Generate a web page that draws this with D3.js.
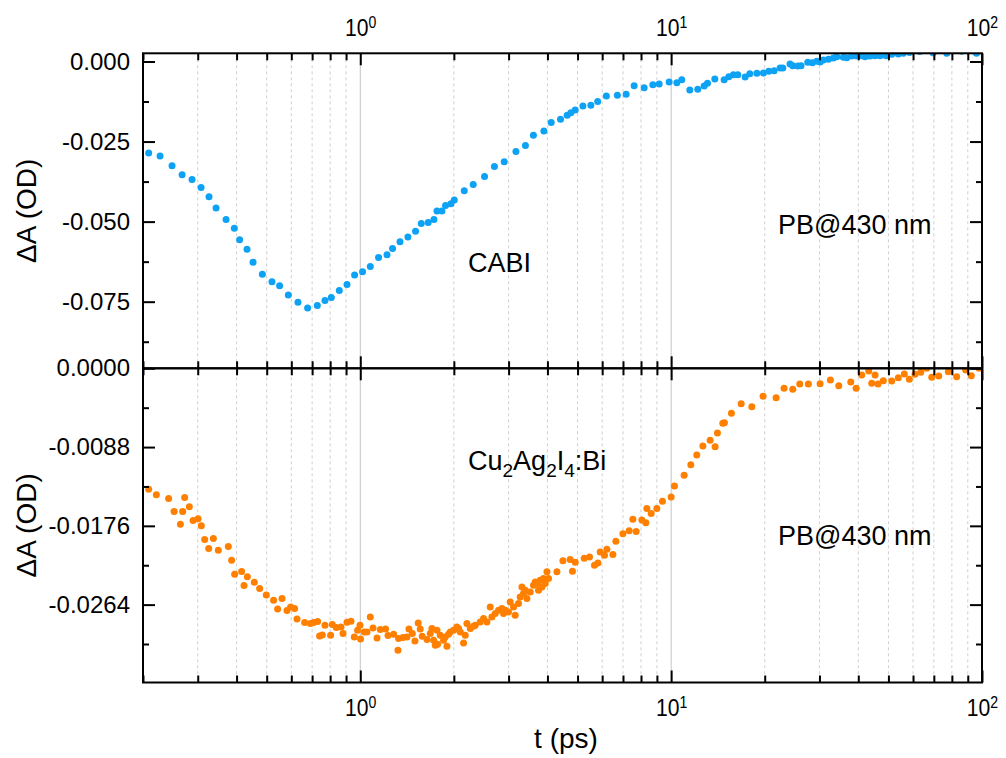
<!DOCTYPE html>
<html lang="en">
<head>
<meta charset="UTF-8">
<title>PB@430 nm</title>
<script src="https://d3js.org/d3.v7.min.js"></script>
<style>
	body{margin:0;background:#fff;}
	text{font-family:"Liberation Sans",Arial,sans-serif;fill:#000;}
</style>
</head>
<body>
<script>
// CABI, PB@430 nm
let tCABI=[0.2086,0.2269,0.248,0.2672,0.2876,0.3075,0.3262,0.3436,0.37,0.3934,
	0.4091,0.4322,0.4519,0.4842,0.52,0.5501,0.5868,0.6304,0.6769,0.7273,
	0.77,0.8068,0.856,0.9063,0.9587,1.017,1.077,1.145,1.219,1.27,
	1.342,1.423,1.506,1.571,1.654,1.726,1.765,1.831,1.881,1.957,
	2.006,2.16,2.308,2.51,2.701,2.904,3.168,3.398,3.605,3.896,
	4.113,4.407,4.63,4.759,4.914,5.202,5.518,5.803,6.188,6.714,
	7.166,7.603,8.189,8.733,9.151,9.854,10.43,10.82,11.48,12.18,
	12.77,13.09,13.82,14.81,15.33,15.86,16.39,17.3,17.91,18.87,
	19.81,20.61,21.44,22.41,22.87,24.13,24.62,25.55,26.18,27.51,
	28.47,29.41,30.14,30.88,32.05,33.26,34.11,35.81,36.73,38.11,
	39.55,41.04,42.06,43.64,45.29,46.99,49.13,51.25,53.82,55.84,
	58.5,63,69.6,77,86,96];
let dCABI=[-0.02859,-0.02953,-0.03256,-0.03538,-0.03681,-0.03931,-0.04225,-0.04578,-0.04931,-0.05203,
	-0.05569,-0.05859,-0.06266,-0.06641,-0.06881,-0.07006,-0.07288,-0.07516,-0.07694,-0.07619,
	-0.07463,-0.07369,-0.0715,-0.06963,-0.06663,-0.06569,-0.064,-0.06119,-0.06038,-0.05838,
	-0.05631,-0.05484,-0.05297,-0.05056,-0.05025,-0.04931,-0.04672,-0.04672,-0.04494,-0.04444,
	-0.04328,-0.04038,-0.03838,-0.03594,-0.03275,-0.03131,-0.02813,-0.02625,-0.02303,-0.02172,
	-0.01906,-0.01806,-0.01681,-0.016,-0.01516,-0.01391,-0.01369,-0.0125,-0.01078,-0.01056,
	-0.01025,-0.00756,-0.00819,-0.00725,-0.00703,-0.00641,-0.00663,-0.00569,-0.00891,-0.00869,
	-0.00766,-0.00681,-0.00547,-0.00569,-0.00475,-0.00413,-0.00413,-0.00484,-0.00381,-0.00369,
	-0.00359,-0.00306,-0.00288,-0.00203,-0.00203,-0.00078,-0.00131,-0.00141,-0.00131,-0.00025,
	-0.00038,0.00006,-0.00016,0.00047,0.00069,0.00109,0.0015,0.00131,0.00119,0.00172,
	0.00172,0.00181,0.0015,0.00172,0.00181,0.00181,0.00181,0.00225,0.00234,0.00256,
	0.0028,0.0031,0.0027,0.0026,0.0032,0.0026];

// Cu2Ag2I4:Bi, PB@430 nm
let tCu=[0.2086,0.2208,0.2418,0.2518,0.2638,0.2683,0.2723,0.2819,0.2898,0.3007,
	0.3081,0.3158,0.3253,0.3368,0.3494,0.3763,0.3856,0.3943,0.4152,0.4227,
	0.4332,0.4561,0.4745,0.4985,0.5261,0.5421,0.56,0.5811,0.5969,0.6148,
	0.6259,0.6622,0.6907,0.7078,0.729,0.7398,0.7547,0.77,0.8026,0.8128,
	0.8373,0.8669,0.8799,0.9063,0.9335,0.9566,0.9802,0.9978,1.002,1.03,
	1.051,1.077,1.099,1.132,1.16,1.206,1.228,1.28,1.322,1.328,
	1.372,1.413,1.434,1.47,1.499,1.536,1.559,1.582,1.639,1.679,
	1.7,1.721,1.743,1.765,1.773,1.808,1.853,1.876,1.9,1.923,
	1.947,1.995,2.046,2.071,2.097,2.149,2.176,2.203,2.258,2.313,
	2.343,2.431,2.492,2.555,2.618,2.651,2.717,2.785,2.855,2.889,
	2.926,2.998,3.036,3.111,3.15,3.228,3.269,3.311,3.35,3.393,
	3.436,3.521,3.608,3.654,3.7,3.744,3.792,3.839,3.885,3.935,
	3.985,4.032,4.291,4.486,4.732,4.814,4.914,5.252,5.462,5.668,
	5.812,5.912,6.103,6.213,6.495,6.641,6.994,7.328,7.531,7.718,
	8.051,8.292,8.354,8.625,8.995,9.376,10.0,10.25,11.01,11.57,
	12.09,12.65,13.35,13.85,14.09,14.66,14.84,15.63,16.8,18.18,
	19.76,21.76,23.08,24.62,25.93,27.64,30.14,32.53,34.62,37.83,
	39.35,41.04,43.22,44.19,45.29,46.3,48.15,51.25,53.82,56.26,
	58.38,60.9,63.53,66.41,68.92,72.58,77.93,82.9,88.63,92.39,
	97.81];
let dCu=[-0.0135,-0.01413,-0.01454,-0.01599,-0.01741,-0.01599,-0.01442,-0.01548,-0.017,-0.01682,
	-0.0176,-0.01912,-0.02013,-0.01901,-0.02032,-0.0199,-0.02144,-0.023,-0.0227,-0.02426,
	-0.0233,-0.0239,-0.0246,-0.02532,-0.02591,-0.02688,-0.02572,-0.02706,-0.02666,-0.02684,
	-0.028,-0.0284,-0.02851,-0.0284,-0.02829,-0.0299,-0.02979,-0.0287,-0.02982,-0.02863,
	-0.02896,-0.02889,-0.02963,-0.02837,-0.02826,-0.03001,-0.02926,-0.0287,-0.03024,-0.02945,
	-0.02945,-0.02778,-0.02901,-0.03012,-0.02919,-0.02912,-0.02986,-0.02971,-0.0315,-0.03019,
	-0.03008,-0.03001,-0.02912,-0.02963,-0.03046,-0.02845,-0.02912,-0.02993,-0.0303,-0.02963,
	-0.02907,-0.03038,-0.03094,-0.02926,-0.03083,-0.02982,-0.03038,-0.03001,-0.03105,-0.02971,
	-0.02945,-0.02926,-0.02889,-0.02907,-0.02945,-0.03068,-0.02982,-0.02851,-0.02907,-0.02882,
	-0.0287,-0.02834,-0.02796,-0.02834,-0.02666,-0.02778,-0.0274,-0.02703,-0.02684,-0.0274,
	-0.02703,-0.02722,-0.0261,-0.02666,-0.02759,-0.02628,-0.02554,-0.02442,-0.02516,-0.02479,
	-0.02572,-0.02498,-0.02423,-0.02386,-0.02404,-0.02479,-0.02367,-0.02442,-0.02348,-0.02404,
	-0.02274,-0.02348,-0.02274,-0.02151,-0.02136,-0.02267,-0.02166,-0.02121,-0.02107,-0.022,
	-0.02174,-0.02051,-0.02088,-0.02021,-0.0208,-0.01931,-0.01849,-0.01816,-0.01685,-0.01823,
	-0.01696,-0.01726,-0.01565,-0.01621,-0.01565,-0.01484,-0.01439,-0.01316,-0.01196,-0.01078,
	-0.00969,-0.00869,-0.00805,-0.00877,-0.00723,-0.00615,-0.00608,-0.00503,-0.00396,-0.00429,
	-0.00313,-0.00329,-0.00224,-0.00235,-0.00176,-0.00176,-0.00172,-0.00131,-0.00195,-0.00153,
	-0.00224,-0.00075,-0.0003,-0.00168,-0.00075,-0.00176,-0.00139,-0.00142,-0.00105,-0.00064,
	-0.00123,-0.00067,-0.00045,0,-0.00101,-0.00086,-0.00038,-0.00094,-0.00019,-0.00083,
	0];

let xMajor=[1,10,100];
let yTopTicks=[0,-0.025,-0.05,-0.075];
let yTopLabels=["0.000","-0.025","-0.050","-0.075"];
let yTopMinor=[-0.0125,-0.0375,-0.0625,-0.0875];
let yBotTicks=[0,-0.0088,-0.0176,-0.0264];
let yBotLabels=["0.0000","-0.0088","-0.0176","-0.0264"];
let yBotMinor=[-0.0044,-0.0132,-0.022,-0.0308];

const W=1006, H=758;
const left=143, right=982, top1=53.3, mid=368.3, bot=682.5;

let svg=d3.select("body").append("svg").attr("width",W).attr("height",H);

let x=d3.scaleLog().domain([0.2,100]).range([left,right]);
let yTop=d3.scaleLinear().domain([-0.0958,0.00256]).range([mid,top1]);
let yBot=d3.scaleLinear().domain([-0.0351,0]).range([bot,mid]);

let allX=x.ticks();
let xMinor=allX.filter(function(d){return xMajor.indexOf(d)<0;});

// vertical grid
svg.append("g").selectAll("line")
	.data(allX.filter(function(d){return d>0.2 && d<100;}))
	.enter().append("line")
	.attr("x1",function(d){return x(d);})
	.attr("x2",function(d){return x(d);})
	.attr("y1",top1).attr("y2",bot)
	.style("stroke",function(d){return xMajor.indexOf(d)>=0?"#c4c4c4":"#cfcfcf";})
	.style("stroke-width",1)
	.style("stroke-dasharray",function(d){return xMajor.indexOf(d)>=0?null:"3,3";});

// clip paths
let defs=svg.append("defs");
defs.append("clipPath").attr("id","clipTop").append("rect")
	.attr("x",left).attr("y",top1).attr("width",right-left).attr("height",mid-top1);
defs.append("clipPath").attr("id","clipBot").append("rect")
	.attr("x",left).attr("y",mid).attr("width",right-left).attr("height",bot-mid);

svg.append("g").attr("clip-path","url(#clipTop)")
	.selectAll("circle").data(d3.zip(tCABI,dCABI))
	.enter().append("circle")
	.attr("cx",function(d){return x(d[0]);})
	.attr("cy",function(d){return yTop(d[1]);})
	.attr("r",3.5)
	.style("fill","#0ea2f4");

svg.append("g").attr("clip-path","url(#clipBot)")
	.selectAll("circle").data(d3.zip(tCu,dCu))
	.enter().append("circle")
	.attr("cx",function(d){return x(d[0]);})
	.attr("cy",function(d){return yBot(d[1]);})
	.attr("r",3.5)
	.style("fill","#ff8000");

// axes
function sup(sel){
	sel.selectAll("text").each(function(d){
		let t=d3.select(this);
		t.attr("transform","scale(0.88,1)");
		t.text("10");
		t.append("tspan").attr("dy",-8).style("font-size","16px").text(Math.round(Math.log10(d)));
	});
}
function clean(g,fs){
	g.select(".domain").remove();
	g.selectAll(".tick line").style("stroke","#000").style("stroke-width",2);
	g.selectAll("text").style("font-size",fs).attr("fill","#000");
}

let ax;
// top panel: top axis
ax=svg.append("g").attr("transform","translate(0,"+top1+")")
	.call(d3.axisTop(x).tickValues(xMajor).tickSize(-12).tickPadding(17));
clean(ax,"24px"); sup(ax);
ax=svg.append("g").attr("transform","translate(0,"+top1+")")
	.call(d3.axisTop(x).tickValues(xMinor).tickSize(-7).tickFormat(""));
clean(ax,"24px");
// middle line, ticks up (top panel) and down (bottom panel)
ax=svg.append("g").attr("transform","translate(0,"+mid+")")
	.call(d3.axisBottom(x).tickValues(xMajor).tickSize(-12).tickFormat(""));
clean(ax,"24px");
ax=svg.append("g").attr("transform","translate(0,"+mid+")")
	.call(d3.axisBottom(x).tickValues(xMinor).tickSize(-7).tickFormat(""));
clean(ax,"24px");
ax=svg.append("g").attr("transform","translate(0,"+mid+")")
	.call(d3.axisTop(x).tickValues(xMajor).tickSize(-12).tickFormat(""));
clean(ax,"24px");
ax=svg.append("g").attr("transform","translate(0,"+mid+")")
	.call(d3.axisTop(x).tickValues(xMinor).tickSize(-7).tickFormat(""));
clean(ax,"24px");
// bottom axis
ax=svg.append("g").attr("transform","translate(0,"+bot+")")
	.call(d3.axisBottom(x).tickValues(xMajor).tickSize(-12).tickPadding(16));
clean(ax,"24px"); sup(ax);
ax=svg.append("g").attr("transform","translate(0,"+bot+")")
	.call(d3.axisBottom(x).tickValues(xMinor).tickSize(-7).tickFormat(""));
clean(ax,"24px");

// y axes
ax=svg.append("g").attr("transform","translate("+left+",0)")
	.call(d3.axisLeft(yTop).tickValues(yTopTicks).tickSize(-12).tickPadding(13)
		.tickFormat(function(d,i){return yTopLabels[i];}));
clean(ax,"24px");
ax=svg.append("g").attr("transform","translate("+left+",0)")
	.call(d3.axisLeft(yTop).tickValues(yTopMinor).tickSize(-6).tickFormat(""));
clean(ax,"24px");
ax=svg.append("g").attr("transform","translate("+right+",0)")
	.call(d3.axisRight(yTop).tickValues(yTopTicks).tickSize(-12).tickFormat(""));
clean(ax,"24px");
ax=svg.append("g").attr("transform","translate("+right+",0)")
	.call(d3.axisRight(yTop).tickValues(yTopMinor).tickSize(-6).tickFormat(""));
clean(ax,"24px");

ax=svg.append("g").attr("transform","translate("+left+",0)")
	.call(d3.axisLeft(yBot).tickValues(yBotTicks).tickSize(-12).tickPadding(13)
		.tickFormat(function(d,i){return yBotLabels[i];}));
clean(ax,"24px");
ax=svg.append("g").attr("transform","translate("+left+",0)")
	.call(d3.axisLeft(yBot).tickValues(yBotMinor).tickSize(-6).tickFormat(""));
clean(ax,"24px");
ax=svg.append("g").attr("transform","translate("+right+",0)")
	.call(d3.axisRight(yBot).tickValues(yBotTicks).tickSize(-12).tickFormat(""));
clean(ax,"24px");
ax=svg.append("g").attr("transform","translate("+right+",0)")
	.call(d3.axisRight(yBot).tickValues(yBotMinor).tickSize(-6).tickFormat(""));
clean(ax,"24px");

// frames
[[top1,mid],[mid,bot]].forEach(function(p){
	svg.append("rect")
		.attr("x",left).attr("y",p[0])
		.attr("width",right-left).attr("height",p[1]-p[0])
		.style("fill","none").style("stroke","#000").style("stroke-width",2);
});

// titles
svg.append("text").attr("transform","translate(36,"+((top1+mid)/2)+") rotate(-90)")
	.attr("text-anchor","middle").style("font-size","28px").text("\u0394A (OD)");
svg.append("text").attr("transform","translate(36,"+((mid+bot)/2)+") rotate(-90)")
	.attr("text-anchor","middle").style("font-size","28px").text("\u0394A (OD)");
svg.append("text").attr("x",566).attr("y",748)
	.attr("text-anchor","middle").style("font-size","28px").text("t (ps)");

// annotations
svg.append("text").attr("x",468).attr("y",272).style("font-size","27px").text("CABI");
svg.append("text").attr("x",778).attr("y",234).style("font-size","27px").text("PB@430 nm");
svg.append("text").attr("x",778).attr("y",545).style("font-size","27px").text("PB@430 nm");
let cu=svg.append("text").attr("x",468).attr("y",470).style("font-size","27px");
cu.append("tspan").text("Cu");
cu.append("tspan").attr("dy",7).style("font-size","19px").text("2");
cu.append("tspan").attr("dy",-7).text("Ag");
cu.append("tspan").attr("dy",7).style("font-size","19px").text("2");
cu.append("tspan").attr("dy",-7).text("I");
cu.append("tspan").attr("dy",7).style("font-size","19px").text("4");
cu.append("tspan").attr("dy",-7).text(":Bi");
</script>
</body>
</html>
